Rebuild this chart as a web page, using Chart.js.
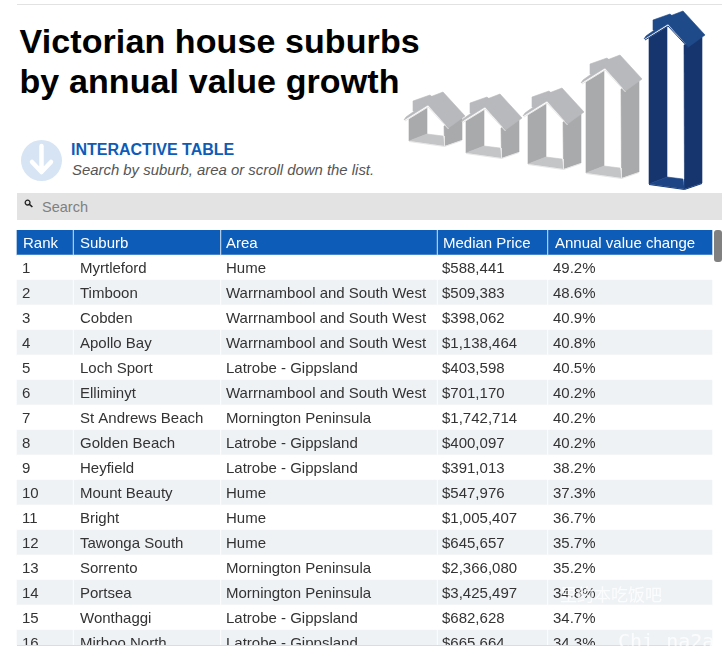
<!DOCTYPE html>
<html>
<head>
<meta charset="utf-8">
<script src="https://cdn.jsdelivr.net/npm/chart.js@4"></script>
<style>
html, body { margin: 0; padding: 0; background: #fff; }
body { width: 728px; height: 656px; position: relative; overflow: hidden; font-family: "Liberation Sans", Arial, sans-serif; }
.abs { position: absolute; white-space: nowrap; }
#topline { left: 17px; top: 4px; width: 705px; height: 1px; background: #e2e2e2; }
#title { left: 19.5px; top: 21px; font-weight: bold; font-size: 34px; line-height: 40px; color: #000; letter-spacing: 0.1px; }
#icon { left: 21px; top: 140px; }
#subhead { left: 71px; top: 141px; font-weight: bold; font-size: 16px; color: #0d5cb8; }
#hint { left: 72px; top: 162px; font-style: italic; font-size: 14.9px; color: #555; }
#search { left: 17px; top: 193px; width: 705px; height: 27px; background: #e3e3e3; }
#searchtext { left: 42px; top: 199px; font-size: 14.5px; color: #808080; }
#houses { left: 400px; top: 0; }
#scrollbar { left: 714px; top: 230px; width: 8px; height: 32px; background: #808080; border-radius: 3px; }
#tablewrap { left: 0; top: 230px; width: 728px; height: 415px; overflow: hidden; }
#bottomline { left: 17px; top: 645px; width: 695px; height: 1px; background: #dcdcdc; }
.wm { color: rgba(255,255,255,0.75); }
</style>
</head>
<body>
<div class="abs" id="topline"></div>
<div class="abs" id="title">Victorian house suburbs<br>by annual value growth</div>
<svg class="abs" id="houses" width="328" height="195"></svg>
<svg class="abs" id="icon" width="42" height="42">
  <circle cx="20.5" cy="20.5" r="20.5" fill="#d6e4f4"/>
  <path d="M20.5 6 V31 M11 22 L20.5 32 L30 22" stroke="#fff" stroke-width="4.5" fill="none" stroke-linecap="round" stroke-linejoin="round"/>
</svg>
<div class="abs" id="subhead">INTERACTIVE TABLE</div>
<div class="abs" id="hint">Search by suburb, area or scroll down the list.</div>
<div class="abs" id="search"></div>
<svg class="abs" style="left:24px;top:199px" width="10" height="10">
  <circle cx="3.6" cy="3.6" r="2.4" stroke="#222" stroke-width="1.3" fill="none"/>
  <path d="M5.4 5.4 L8.4 8" stroke="#222" stroke-width="1.6"/>
</svg>
<div class="abs" id="searchtext">Search</div>
<div class="abs" id="tablewrap"><canvas id="chart" width="728" height="425"></canvas></div>
<div class="abs" id="bottomline"></div>
<div class="abs" id="scrollbar"></div>
<div class="abs wm" style="left:560px;top:581px;font:17px 'Noto Sans CJK SC'">里约本吃饭吧</div>
<div class="abs wm" style="left:618px;top:629px;font:20px 'DejaVu Sans Mono'">Chi na2a-</div>

<script>
const headers = ['Rank', 'Suburb', 'Area', 'Median Price', 'Annual value change'];
const ranks = ['1', '2', '3', '4', '5', '6', '7', '8', '9', '10', '11', '12', '13', '14', '15', '16'];
const suburbs = ['Myrtleford', 'Timboon', 'Cobden', 'Apollo Bay', 'Loch Sport', 'Elliminyt', 'St Andrews Beach', 'Golden Beach',
    'Heyfield', 'Mount Beauty', 'Bright', 'Tawonga South', 'Sorrento', 'Portsea', 'Wonthaggi', 'Mirboo North'];
const areas = ['Hume', 'Warrnambool and South West', 'Warrnambool and South West', 'Warrnambool and South West', 'Latrobe - Gippsland',
    'Warrnambool and South West', 'Mornington Peninsula', 'Latrobe - Gippsland', 'Latrobe - Gippsland', 'Hume', 'Hume', 'Hume',
    'Mornington Peninsula', 'Mornington Peninsula', 'Latrobe - Gippsland', 'Latrobe - Gippsland'];
const medianPrices = ['$588,441', '$509,383', '$398,062', '$1,138,464', '$403,598', '$701,170', '$1,742,714', '$400,097',
    '$391,013', '$547,976', '$1,005,407', '$645,657', '$2,366,080', '$3,425,497', '$682,628', '$665,664'];
const annualChanges = ['49.2%', '48.6%', '40.9%', '40.8%', '40.5%', '40.2%', '40.2%', '40.2%',
    '38.2%', '37.3%', '36.7%', '35.7%', '35.2%', '34.8%', '34.7%', '34.3%'];

// column edges on the x scale, one scale unit is one page pixel
const colEdges = [[17, 72.5], [74, 220], [221.5, 436.5], [438, 547], [548.5, 712]];
const colText = [22, 80, 226, 442, 553];
const headText = [23, 80, 226, 443, 555];

const rowLabels = ['header'].concat(ranks);
const columns = [ranks, suburbs, areas, medianPrices, annualChanges];

const tableText = {
    id: 'tableText',
    afterDatasetsDraw(chart) {
        const ctx = chart.ctx;
        const x = chart.scales.x;
        const y = chart.scales.y;
        ctx.save();
        ctx.textBaseline = 'middle';
        ctx.font = '15px "Liberation Sans"';
        headers.forEach((h, c) => {
            ctx.fillStyle = '#fff';
            ctx.fillText(h, x.getPixelForValue(headText[c]), y.getPixelForValue(0) + 1);
        });
        ctx.fillStyle = '#333';
        columns.forEach((col, c) => {
            col.forEach((v, r) => {
                ctx.fillText(v, x.getPixelForValue(colText[c]), y.getPixelForValue(r + 1) + 1);
            });
        });
        ctx.restore();
    }
};

const cellColor = c => c.dataIndex === 0 ? '#0d5cb8' : (c.dataIndex % 2 === 0 ? '#eff2f5' : '#fff');

new Chart(document.getElementById('chart'), {
    type: 'bar',
    data: {
        labels: rowLabels,
        datasets: colEdges.map((e, i) => ({
            label: headers[i],
            data: rowLabels.map(() => e),
            backgroundColor: cellColor,
            grouped: false,
            barPercentage: 1,
            categoryPercentage: 1,
        }))
    },
    options: {
        indexAxis: 'y',
        responsive: false,
        animation: false,
        layout: { padding: 0 },
        plugins: { legend: { display: false }, title: { display: false }, tooltip: { enabled: false } },
        scales: {
            x: { type: 'linear', min: 0, max: 728, display: false },
            y: { type: 'category', display: false }
        }
    },
    plugins: [tableText]
});
document.getElementById('chart').style.display = 'block';

// decorative house icons, same shape with a taller wall each time
function house(px, py, h, roof, wall, floor, edge) {
    const p = pts => pts.map(a => (px + a[0]) + ',' + (py + a[1])).join(' ');
    const poly = (fill, pts) => '<polygon fill="' + fill + '" stroke="' + fill + '" stroke-width="0.6" stroke-linejoin="round" points="' + p(pts) + '"/>';
    const line = pts => '<polyline fill="none" stroke="' + edge + '" stroke-width="1" points="' + p(pts) + '"/>';
    return poly(wall, [[-34, 27], [-16, 16], [-16, h - 6], [-34, h + 1]])
        + poly(wall, [[1, 34], [19, 26], [19, h], [1.5, h + 6]])
        + poly(floor, [[-16, h - 6], [0, h - 4], [1.5, h + 6], [-34, h + 1]])
        + line([[-34, h + 1.5], [1.5, h + 6.5], [19, h + 0.5]])
        + line([[1.5, h - 4], [1.5, h + 6]])
        + poly(roof, [[-30, 9], [-13, 3], [-6, 9], [-22, 15], [-26, 19], [-30, 19]])
        + poly(roof, [[-15, 13], [-39, 28], [-37, 25], [-16, 10]])
        + poly(roof, [[0, 0], [22, 24], [5.5, 36], [-16, 12], [-13, 5]])
        + line([[-38, 29], [-15, 15], [5.5, 37]]);
}
const gray = ['#b8b9bc', '#a9aaac', '#c4c5c7', '#e8e8e9'];
const blue = ['#1f4a8a', '#16356f', '#1d4585', '#1b4080'];
document.getElementById('houses').innerHTML =
    house(43, 92, 48, ...gray) + house(100, 94, 58, ...gray) + house(162, 88, 75, ...gray)
    + house(220, 55, 117, ...gray) + house(283, 11, 172, ...blue);
</script>
</body>
</html>
